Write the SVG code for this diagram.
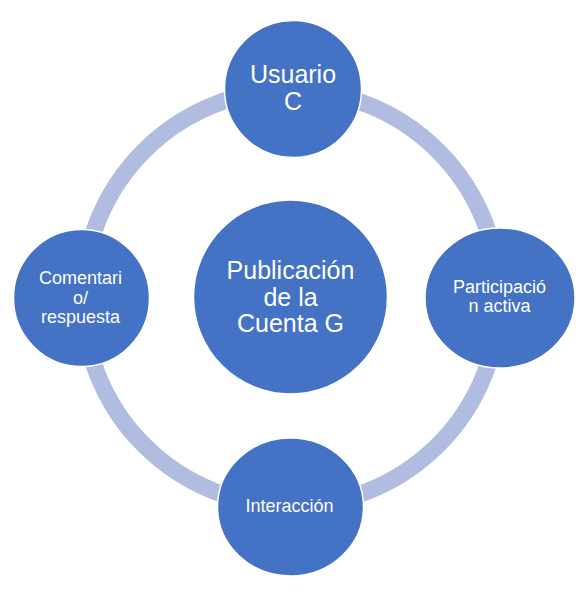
<svg xmlns="http://www.w3.org/2000/svg" width="586" height="594" viewBox="0 0 586 594">
<style>
.ring{fill:none;stroke:#B0BDE0;stroke-width:17}
.node{fill:#4472C4;stroke:#FFFFFF;stroke-width:1.5}
.t{font-family:"Liberation Sans",Arial,sans-serif;fill:#FFFFFF;text-anchor:middle}
</style>
<rect width="586" height="594" fill="#FFFFFF"/>
<g id="connectors">
<path class="ring" d="M291,90 A208,208 0 0 1 499,298"/>
<path class="ring" d="M499,298 A208,208 0 0 1 291,506"/>
<path class="ring" d="M291,506 A208,208 0 0 1 83,298"/>
<path class="ring" d="M83,298 A208,208 0 0 1 291,90"/>
</g>
<g id="center">
<circle class="node" cx="290.5" cy="297" r="97"/>
<text class="t" font-size="25"><tspan x="290.5" y="279">Publicación</tspan><tspan x="290.5" y="305.5">de la</tspan><tspan x="290.5" y="332">Cuenta G</tspan></text>
</g>
<g id="usuario">
<circle class="node" cx="293" cy="89" r="68.5"/>
<text class="t" font-size="25"><tspan x="293" y="83">Usuario</tspan><tspan x="293" y="110">C</tspan></text>
</g>
<g id="participacion">
<ellipse class="node" cx="500" cy="298" rx="75" ry="70"/>
<text class="t" font-size="18"><tspan x="499.5" y="293">Participació</tspan><tspan x="499.5" y="312">n activa</tspan></text>
</g>
<g id="interaccion">
<ellipse class="node" cx="290.5" cy="507" rx="73" ry="69"/>
<text class="t" font-size="18"><tspan x="289.5" y="512">Interacción</tspan></text>
</g>
<g id="comentario">
<ellipse class="node" cx="81.5" cy="298" rx="68" ry="68.5"/>
<text class="t" font-size="18"><tspan x="80.5" y="284">Comentari</tspan><tspan x="80.5" y="303.5">o/</tspan><tspan x="80.5" y="323">respuesta</tspan></text>
</g>
</svg>
